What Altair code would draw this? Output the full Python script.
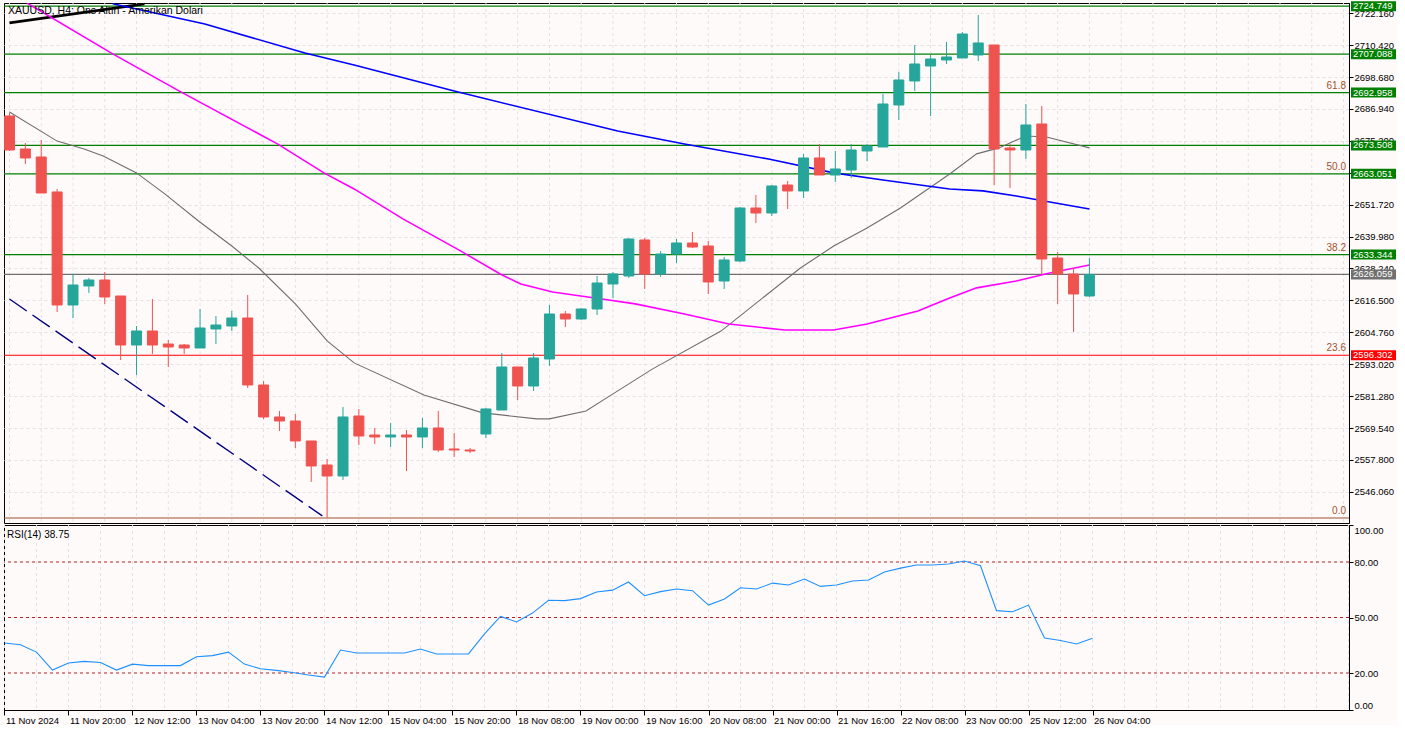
import altair as alt
import pandas as pd

# ---------------- data ----------------
opens = [2684.34, 2672.20, 2669.25, 2656.38, 2614.80, 2621.79, 2624.00, 2618.11, 2600.08, 2605.24,
         2600.45, 2600.08, 2598.98, 2605.97, 2607.07, 2610.01, 2585.37, 2573.60, 2572.12, 2564.77,
         2555.93, 2551.89, 2573.96, 2566.97, 2566.24, 2566.97, 2566.24, 2569.55, 2561.82, 2561.45,
         2567.34, 2576.17, 2591.99, 2585.00, 2594.93, 2611.49, 2609.65, 2613.33, 2622.53, 2625.47,
         2638.72, 2626.21, 2633.56, 2637.61, 2636.51, 2623.63, 2630.99, 2650.49, 2648.65, 2658.95,
         2656.75, 2668.89, 2662.63, 2664.47, 2671.46, 2672.93, 2688.39, 2697.22, 2702.73, 2704.94,
         2705.68, 2706.78, 2710.46, 2672.57, 2671.83, 2681.40, 2632.09, 2626.21, 2618.11]
highs = [2685.44, 2674.41, 2675.51, 2657.48, 2626.21, 2624.74, 2626.94, 2618.11, 2607.07, 2617.01,
         2601.93, 2600.45, 2613.33, 2610.75, 2612.59, 2618.48, 2586.84, 2575.80, 2574.70, 2564.77,
         2558.14, 2577.27, 2576.54, 2569.55, 2571.39, 2568.81, 2573.23, 2575.80, 2567.71, 2562.19,
         2576.91, 2597.14, 2591.99, 2597.14, 2614.80, 2612.59, 2613.70, 2625.47, 2626.94, 2639.45,
         2639.45, 2634.67, 2639.08, 2641.66, 2638.35, 2632.46, 2650.86, 2655.27, 2658.95, 2660.42,
         2670.36, 2674.04, 2671.46, 2674.04, 2674.04, 2692.43, 2700.53, 2710.46, 2706.78, 2711.57,
         2715.24, 2721.50, 2710.46, 2674.04, 2688.75, 2688.02, 2634.30, 2628.41, 2632.09]
lows = [2671.46, 2666.68, 2656.01, 2612.22, 2610.01, 2619.22, 2615.17, 2594.56, 2589.05, 2596.77,
        2591.99, 2596.77, 2598.98, 2600.45, 2605.24, 2584.27, 2572.86, 2568.44, 2562.19, 2549.68,
        2536.43, 2550.42, 2563.29, 2563.66, 2562.56, 2553.73, 2562.19, 2560.72, 2558.88, 2560.35,
        2565.87, 2576.17, 2579.85, 2583.16, 2592.36, 2606.70, 2609.28, 2611.12, 2617.38, 2624.74,
        2620.69, 2625.10, 2630.25, 2635.77, 2618.85, 2620.69, 2630.62, 2644.97, 2647.55, 2650.12,
        2654.17, 2662.63, 2660.06, 2661.53, 2667.78, 2672.93, 2682.87, 2693.54, 2684.34, 2703.47,
        2705.68, 2704.57, 2658.95, 2657.85, 2668.52, 2626.21, 2615.17, 2604.87, 2617.75]
closes = [2671.83, 2668.89, 2656.01, 2614.80, 2622.16, 2624.00, 2617.75, 2600.08, 2605.24, 2600.08,
          2599.35, 2598.98, 2606.34, 2607.44, 2610.01, 2585.37, 2573.60, 2572.12, 2564.77, 2555.57,
          2551.89, 2573.60, 2566.60, 2566.24, 2566.97, 2566.24, 2569.55, 2561.45, 2561.45, 2561.09,
          2576.54, 2591.99, 2585.00, 2595.30, 2611.49, 2609.65, 2613.33, 2622.89, 2626.21, 2639.08,
          2626.21, 2633.56, 2637.61, 2636.14, 2623.26, 2631.36, 2650.49, 2648.65, 2658.59, 2656.75,
          2668.89, 2662.63, 2664.84, 2671.83, 2673.30, 2688.75, 2697.58, 2703.47, 2705.31, 2706.05,
          2714.51, 2711.20, 2672.20, 2671.83, 2681.03, 2631.72, 2626.21, 2618.85, 2626.059]

rsi = [36.2, 35.3, 31.3, 21.6, 25.4, 26.3, 25.7, 21.6, 24.8, 24.0,
       24.0, 24.0, 28.8, 29.4, 31.3, 24.8, 22.3, 21.4, 20.3, 18.9,
       17.8, 32.4, 30.8, 30.8, 30.8, 30.8, 33.0, 30.3, 30.3, 30.3,
       41.1, 50.6, 47.6, 52.4, 59.3, 59.1, 60.2, 63.8, 64.8, 69.2,
       61.8, 64.0, 65.4, 64.5, 56.7, 60.0, 66.1, 65.4, 68.6, 67.6,
       70.8, 66.8, 67.6, 69.7, 70.3, 74.6, 76.7, 78.4, 78.4, 78.9,
       80.5, 78.0, 53.7, 53.1, 56.7, 38.9, 37.6, 35.7, 38.75]

blue_x = [6.5, 12.3, 18.6, 21.7, 28.0, 38.3, 42.5, 47.8, 51.9, 55.0, 59.2, 61.3, 63.4, 65.5, 68.0]
blue_y = [2725.6, 2718.2, 2707.5, 2703.1, 2693.5, 2678.8, 2674.0, 2668.5, 2663.4, 2660.8, 2657.5,
          2656.8, 2654.9, 2652.7, 2650.1]
mag_x = [1.1, 6.5, 10.7, 16.9, 19.8, 21.7, 24.8, 28.4, 30.9, 32.2, 34.2, 37.3, 39.4, 42.5, 45.3,
         48.8, 51.9, 54.0, 57.2, 59.2, 60.9, 63.4, 65.5, 68.0]
mag_y = [2725.9, 2707.2, 2693.5, 2674.0, 2663.4, 2657.5, 2646.4, 2634.7, 2626.2, 2622.5, 2619.6,
         2617.0, 2615.2, 2611.5, 2607.8, 2605.6, 2605.6, 2607.8, 2612.6, 2617.4, 2621.1, 2623.6,
         2626.6, 2629.5]
gray_x = [0, 3, 4.7, 5.9, 8, 9.8, 11.9, 14, 15.7, 18, 20, 21.7, 26.1, 29.8, 33.2, 34.0, 36.3, 38,
          40.5, 44.8, 49.8, 51.9, 54, 56.1, 59.2, 60.9, 62.3, 64, 65.3, 68]
gray_y = [2685.8, 2675.1, 2672.2, 2669.6, 2663.4, 2655.6, 2645.7, 2636.5, 2628.4, 2615.2, 2601.6,
          2593.5, 2581.7, 2575.1, 2572.9, 2572.9, 2575.8, 2582.1, 2591.3, 2605.2, 2628.4, 2636.5,
          2643.1, 2650.5, 2663.0, 2670.4, 2672.6, 2677.0, 2676.6, 2672.6]

black_x = [0.0, 8.5]
black_y = [2718.6, 2725.6]
navy_x = [0.0, 19.7]
navy_y = [2617.0, 2537.2]

level_prices = [2724.749, 2707.088, 2692.958, 2673.508, 2663.051, 2633.344, 2626.059, 2596.302]
level_colors = ["#008000", "#008000", "#008000", "#008000", "#008000", "#008000", "#707070", "#FF0000"]
fib_zero = 2536.43
fib_prices = [2692.958, 2663.051, 2633.344, 2596.302, 2536.43]
fib_texts = ["61.8", "50.0", "38.2", "23.6", "0.0"]

price_ticks = [2722.160, 2710.420, 2698.680, 2686.940, 2675.200, 2663.460, 2651.720, 2639.980,
               2628.240, 2616.500, 2604.760, 2593.020, 2581.280, 2569.540, 2557.800, 2546.060]
rsi_ticks = [0, 20, 50, 80, 100]
rsi_levels = [20, 50, 80]
date_labels = ["11 Nov 2024", "11 Nov 20:00", "12 Nov 12:00", "13 Nov 04:00", "13 Nov 20:00",
               "14 Nov 12:00", "15 Nov 04:00", "15 Nov 20:00", "18 Nov 08:00", "19 Nov 00:00",
               "19 Nov 16:00", "20 Nov 08:00", "21 Nov 00:00", "21 Nov 16:00", "22 Nov 08:00",
               "23 Nov 00:00", "25 Nov 12:00", "26 Nov 04:00"]

title_text = "XAUUSD, H4: Ons Altın - Amerikan Dolari"
rsi_text = "RSI(14) 38.75"

# ---------------- styling ----------------
BG = "#FFFAFA"
GRID = "#E6DFE6"
UP = "#26A69A"
DOWN = "#EF5350"
FONT = "Liberation Sans"
W = 1345
H_PRICE = 520
H_RSI = 185

n = len(opens)
candles = pd.DataFrame({"i": list(range(n)), "open": opens, "high": highs, "low": lows, "close": closes})
candles["dir"] = ["up" if c >= o else "down" for o, c in zip(opens, closes)]

grid_df = pd.DataFrame({"g": list(range(0, 85, 2))})

X_SCALE = alt.Scale(domain=[-0.03, 84.03], nice=False, zero=False)
P_SCALE = alt.Scale(domain=[2534.59, 2725.91], nice=False, zero=False)
R_SCALE = alt.Scale(domain=[0, 100], nice=False, zero=False)

price_axis = alt.Axis(orient="right", values=price_ticks, format=".3f", grid=True, gridColor=GRID,
                      gridDash=[3, 3], gridWidth=1, tickSize=4, tickColor="black", domainColor="black",
                      labelFontSize=9.5, labelColor="black", labelPadding=1, title=None,
                      labelOverlap=False, labelFont=FONT)


def PX(field):
    return alt.X(f"{field}:Q", scale=X_SCALE, axis=None)


def PY(field):
    return alt.Y(f"{field}:Q", scale=P_SCALE, axis=price_axis)


color_enc = alt.Color("dir:N", scale=alt.Scale(domain=["up", "down"], range=[UP, DOWN]), legend=None)
stroke_enc = alt.Stroke("dir:N", scale=alt.Scale(domain=["up", "down"], range=[UP, DOWN]), legend=None)

vgrid = alt.Chart(grid_df).mark_rule(color=GRID, strokeDash=[3, 3], strokeWidth=1).encode(x=PX("g"))

levels_df = pd.DataFrame({"price": level_prices, "c": level_colors,
                          "txt": [f"{p:.3f}" for p in level_prices]})
level_rules = alt.Chart(levels_df).mark_rule(strokeWidth=1.2).encode(
    y=PY("price"), color=alt.Color("c:N", scale=None))
zero_rule = alt.Chart(pd.DataFrame({"price": [fib_zero]})).mark_rule(
    strokeWidth=1.2, color="#A0522D").encode(y=PY("price"))


def line_layer(xs, ys, color, width, dash=None):
    df = pd.DataFrame({"x": xs, "p": ys})
    kw = dict(color=color, strokeWidth=width, clip=True)
    if dash:
        kw["strokeDash"] = dash
    return alt.Chart(df).mark_line(**kw).encode(x=PX("x"), y=PY("p"))


black_line = line_layer(black_x, black_y, "black", 2.6)
navy_line = line_layer(navy_x, navy_y, "#000080", 1.4, [21, 7])
gray_line = line_layer(gray_x, gray_y, "#6E6E6E", 1.1)
blue_line = line_layer(blue_x, blue_y, "#0000FF", 1.6)
mag_line = line_layer(mag_x, mag_y, "#FF00FF", 1.6)

wicks = alt.Chart(candles).mark_rule(strokeWidth=1, clip=True).encode(
    x=PX("i"), y=PY("low"), y2=alt.Y2("high"), color=color_enc)
bodies = alt.Chart(candles).mark_bar(size=10, strokeWidth=1, clip=True).encode(
    x=PX("i"), y=PY("open"), y2=alt.Y2("close"), color=color_enc, stroke=stroke_enc)

tag_rect = alt.Chart(levels_df).mark_rect(yOffset=-5, y2Offset=5).encode(
    x=alt.value(W + 2), x2=alt.value(W + 47), y=PY("price"), y2=alt.Y2("price"),
    color=alt.Color("c:N", scale=None))
tag_text = alt.Chart(levels_df).mark_text(align="left", baseline="middle", color="white",
                                          fontSize=9.5, font=FONT).encode(
    x=alt.value(W + 4), y=PY("price"), text="txt:N")

fib_df = pd.DataFrame({"price": fib_prices, "t": fib_texts})
fib_text = alt.Chart(fib_df).mark_text(align="right", baseline="middle", color="#A0522D",
                                       fontSize=10, font=FONT, dy=-7).encode(
    x=alt.value(W - 3), y=PY("price"), text="t:N")

title_mark = alt.Chart(pd.DataFrame({"t": [title_text]})).mark_text(
    align="left", baseline="middle", fontSize=10.5, font=FONT, color="black").encode(
    x=alt.value(4), y=alt.value(8), text="t:N")

price_panel = alt.layer(vgrid, level_rules, zero_rule, navy_line, black_line, gray_line, blue_line,
                        mag_line, wicks, bodies, tag_rect, tag_text, fib_text, title_mark
                        ).properties(width=W, height=H_PRICE)

# ---------------- RSI panel ----------------
label_js = "[" + ",".join(f"'{s}'" for s in date_labels) + "][round(datum.value/4)]"
x_axis = alt.Axis(values=list(range(0, 4 * len(date_labels), 4)), labelExpr=label_js, labelAlign="left",
                  labelBaseline="top", labelOffset=1, labelPadding=0, tickSize=5, tickColor="black",
                  domainColor="black", labelFontSize=9.5, labelColor="black", labelFlush=False,
                  labelOverlap=False, grid=False, title=None, labelFont=FONT)
rsi_axis = alt.Axis(orient="right", values=rsi_ticks, format=".2f", grid=False, tickSize=4,
                    tickColor="black", domainColor="black", labelFontSize=9.5, labelColor="black",
                    labelPadding=1, labelFlush=True, title=None, labelOverlap=False, labelFont=FONT)


def RY(field):
    return alt.Y(f"{field}:Q", scale=R_SCALE, axis=rsi_axis)


def RX(field):
    return alt.X(f"{field}:Q", scale=X_SCALE, axis=x_axis)


rsi_df = pd.DataFrame({"i": list(range(len(rsi))), "v": rsi})
rgrid = alt.Chart(grid_df).mark_rule(color=GRID, strokeDash=[3, 3], strokeWidth=1).encode(x=RX("g"))
rlevels = alt.Chart(pd.DataFrame({"v": rsi_levels})).mark_rule(
    color="#B22222", strokeDash=[3, 3], strokeWidth=1).encode(y=RY("v"))
rline = alt.Chart(rsi_df).mark_line(color="#1E90FF", strokeWidth=1.1, clip=True).encode(
    x=RX("i"), y=RY("v"))
rlabel = alt.Chart(pd.DataFrame({"t": [rsi_text]})).mark_text(
    align="left", baseline="middle", fontSize=10, font=FONT, color="black").encode(
    x=alt.value(3), y=alt.value(10), text="t:N")

rsi_panel = alt.layer(rgrid, rlevels, rline, rlabel).properties(width=W, height=H_RSI)

chart = alt.vconcat(price_panel, rsi_panel, spacing=0, background=BG,
                    padding={"left": 2, "top": 0, "right": 0, "bottom": 0}).configure_view(
    stroke="black", strokeWidth=1, fill=BG).configure_axis(labelFont=FONT)

chart.save("out.html", embed_options={"renderer": "svg", "actions": False})
